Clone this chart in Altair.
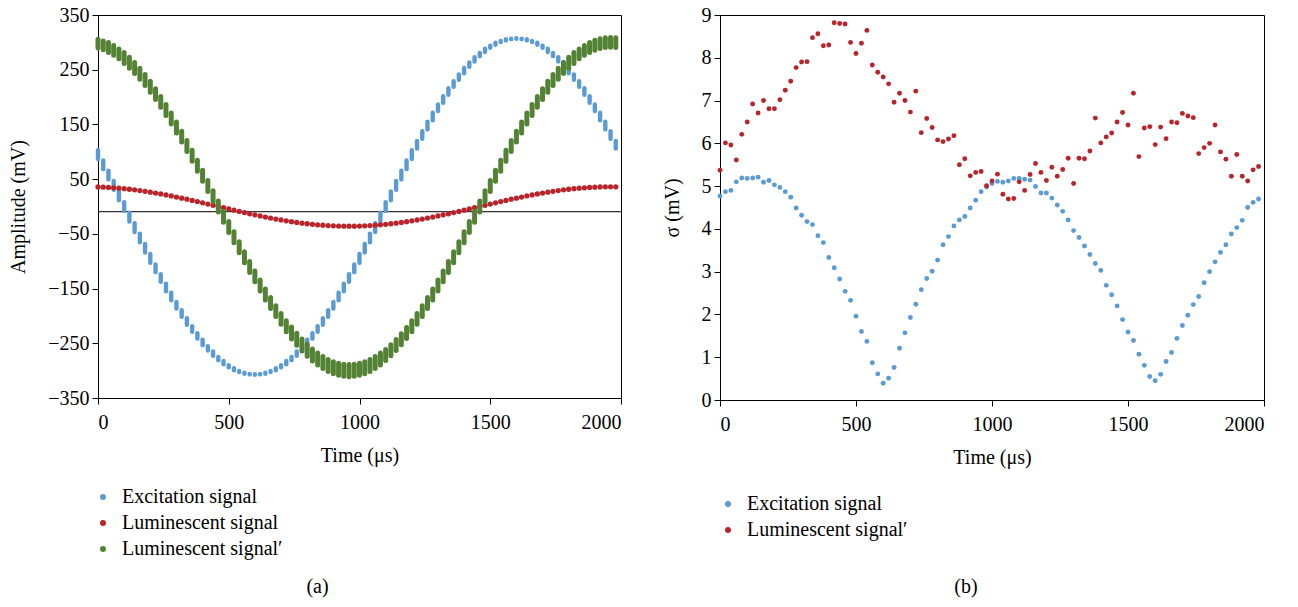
import altair as alt
import pandas as pd

FONT = "Liberation Serif"
BLUE = "#5b9bd5"
RED = "#b9242b"
GREEN = "#548235"

# ---------------- data -----------------
TIME = list(range(0, 2000, 20))

NAMES_A = ["Excitation signal", "Luminescent signal", "Luminescent signal\u2032"]
NAMES_B = ["Excitation signal", "Luminescent signal\u2032"]

# horizontal reference line drawn in panel (a) (mV)
BASELINE_A = [-9.5]

# panel (a): centre of each sampled cluster (mV)
EXCITATION_A = [94.9, 76.3, 57.5, 38.5, 19.3, 0.0, -19.3, -38.5, -57.5, -76.3,
                -94.9, -113.0, -130.7, -147.9, -164.5, -180.5, -195.7, -210.2, -223.8, -236.5,
                -248.4, -259.2, -269.0, -277.8, -285.4, -292.0, -297.4, -301.6, -304.6, -306.4,
                -307.0, -306.4, -304.6, -301.6, -297.4, -292.0, -285.4, -277.8, -269.0, -259.2,
                -248.4, -236.5, -223.8, -210.2, -195.7, -180.5, -164.5, -147.9, -130.7, -113.0,
                -94.9, -76.3, -57.5, -38.5, -19.3, 0.0, 19.3, 38.5, 57.5, 76.3,
                94.9, 113.0, 130.7, 147.9, 164.5, 180.5, 195.7, 210.2, 223.8, 236.5,
                248.4, 259.2, 269.0, 277.8, 285.4, 292.0, 297.4, 301.6, 304.6, 306.4,
                307.0, 306.4, 304.6, 301.6, 297.4, 292.0, 285.4, 277.8, 269.0, 259.2,
                248.4, 236.5, 223.8, 210.2, 195.7, 180.5, 164.5, 147.9, 130.7, 113.0]
# half vertical extent of each cluster (mV)
EXCITATION_A_SPREAD = [8, 8, 8, 8, 8, 8, 8, 8, 8, 8,
                       8, 7, 7, 7, 7, 6, 6, 6, 5, 5,
                       5, 4, 4, 3, 3, 2, 2, 1, 1, 0.5,
                       0.5, 0.5, 1, 1, 2, 2, 3, 3, 4, 4,
                       5, 5, 5, 6, 6, 6, 7, 7, 7, 7,
                       8, 8, 8, 8, 8, 8, 8, 8, 8, 8,
                       8, 7, 7, 7, 7, 6, 6, 6, 5, 5,
                       5, 4, 4, 3, 3, 2, 2, 1, 1, 0.5,
                       0.5, 0.5, 1, 1, 2, 2, 3, 3, 4, 4,
                       5, 5, 5, 6, 6, 6, 7, 7, 7, 7]

LUMINESCENT_A = [35.7, 35.4, 34.9, 34.2, 33.5, 32.6, 31.5, 30.4, 29.1, 27.7,
                 26.2, 24.6, 22.9, 21.2, 19.3, 17.3, 15.3, 13.3, 11.1, 9.0,
                 6.7, 4.5, 2.3, 0.0, -2.3, -4.5, -6.7, -9.0, -11.1, -13.3,
                 -15.3, -17.3, -19.3, -21.2, -22.9, -24.6, -26.2, -27.7, -29.1, -30.4,
                 -31.5, -32.6, -33.5, -34.2, -34.9, -35.4, -35.7, -35.9, -36.0, -35.9,
                 -35.7, -35.4, -34.9, -34.2, -33.5, -32.6, -31.5, -30.4, -29.1, -27.7,
                 -26.2, -24.6, -22.9, -21.2, -19.3, -17.3, -15.3, -13.3, -11.1, -9.0,
                 -6.7, -4.5, -2.3, 0.0, 2.3, 4.5, 6.7, 9.0, 11.1, 13.3,
                 15.3, 17.3, 19.3, 21.2, 22.9, 24.6, 26.2, 27.7, 29.1, 30.4,
                 31.5, 32.6, 33.5, 34.2, 34.9, 35.4, 35.7, 35.9, 36.0, 35.9]

LUMINESCENT_P_A = [297.6, 294.7, 290.6, 285.3, 278.9, 271.4, 262.9, 253.3, 242.7, 231.2,
                   218.7, 205.4, 191.2, 176.3, 160.7, 144.5, 127.7, 110.4, 92.7, 74.6,
                   56.2, 37.6, 18.8, 0.0, -18.8, -37.6, -56.2, -74.6, -92.7, -110.4,
                   -127.7, -144.5, -160.7, -176.3, -191.2, -205.4, -218.7, -231.2, -242.7, -253.3,
                   -262.9, -271.4, -278.9, -285.3, -290.6, -294.7, -297.6, -299.4, -300.0, -299.4,
                   -297.6, -294.7, -290.6, -285.3, -278.9, -271.4, -262.9, -253.3, -242.7, -231.2,
                   -218.7, -205.4, -191.2, -176.3, -160.7, -144.5, -127.7, -110.4, -92.7, -74.6,
                   -56.2, -37.6, -18.8, 0.0, 18.8, 37.6, 56.2, 74.6, 92.7, 110.4,
                   127.7, 144.5, 160.7, 176.3, 191.2, 205.4, 218.7, 231.2, 242.7, 253.3,
                   262.9, 271.4, 278.9, 285.3, 290.6, 294.7, 297.6, 299.4, 300.0, 299.4]
LUMINESCENT_P_A_SPREAD = [8, 8, 9, 9, 9, 10, 10, 10, 10, 10,
                          10, 10, 10, 10, 10, 10, 10, 10, 10, 10,
                          10, 10, 10, 10, 10, 10, 10, 10, 10, 10,
                          10, 10, 10, 10, 10, 10, 10, 11, 11, 11,
                          11, 11, 11, 11, 11, 11, 11, 11, 11, 11,
                          11, 11, 11, 11, 11, 10, 10, 10, 10, 10,
                          10, 10, 10, 10, 10, 10, 10, 10, 10, 10,
                          10, 10, 10, 10, 10, 10, 10, 10, 10, 10,
                          10, 10, 10, 10, 10, 10, 10, 10, 10, 10,
                          10, 10, 9, 9, 9, 9, 9, 9, 9, 9]

# panel (b): standard deviation (mV)
SIGMA_EXCITATION = [4.77, 4.87, 4.90, 5.10, 5.19, 5.18, 5.19, 5.21, 5.09, 5.13,
                    5.03, 4.97, 4.87, 4.74, 4.49, 4.32, 4.17, 4.10, 3.84, 3.68,
                    3.33, 3.09, 2.83, 2.54, 2.33, 1.96, 1.60, 1.37, 0.87, 0.61,
                    0.39, 0.51, 0.76, 1.21, 1.57, 1.93, 2.24, 2.58, 2.84, 3.01,
                    3.27, 3.63, 3.82, 4.07, 4.21, 4.29, 4.49, 4.67, 4.87, 4.98,
                    5.06, 5.11, 5.09, 5.12, 5.18, 5.18, 5.16, 5.14, 4.99, 4.84,
                    4.84, 4.72, 4.56, 4.41, 4.21, 3.96, 3.80, 3.60, 3.40, 3.19,
                    3.03, 2.68, 2.46, 2.20, 1.88, 1.59, 1.39, 1.07, 0.81, 0.55,
                    0.45, 0.60, 0.90, 1.11, 1.44, 1.74, 1.98, 2.23, 2.42, 2.74,
                    3.00, 3.23, 3.45, 3.63, 3.88, 4.03, 4.20, 4.50, 4.62, 4.70]
SIGMA_LUMINESCENT_P = [5.37, 6.01, 5.96, 5.61, 6.21, 6.50, 6.92, 6.71, 7.00, 6.81,
                       6.81, 7.02, 7.24, 7.45, 7.77, 7.90, 7.91, 8.47, 8.56, 8.28,
                       8.30, 8.82, 8.80, 8.79, 8.36, 8.10, 8.34, 8.64, 7.83, 7.66,
                       7.55, 7.39, 6.96, 7.17, 7.00, 6.73, 7.22, 6.25, 6.58, 6.37,
                       6.08, 6.04, 6.10, 6.18, 5.50, 5.64, 5.24, 5.32, 5.34, 5.01,
                       5.12, 5.28, 4.81, 4.70, 4.71, 5.10, 4.90, 5.27, 5.53, 5.32,
                       5.13, 5.44, 5.23, 5.39, 5.65, 5.06, 5.65, 5.64, 5.82, 6.59,
                       6.01, 6.15, 6.24, 6.50, 6.72, 6.43, 7.17, 5.69, 6.36, 6.39,
                       5.97, 6.38, 6.11, 6.50, 6.48, 6.70, 6.64, 6.60, 5.76, 5.90,
                       6.00, 6.43, 5.80, 5.63, 5.23, 5.74, 5.23, 5.12, 5.38, 5.46]

X_TICKS = [0, 500, 1000, 1500, 2000]
Y_TICKS_A = [-350, -250, -150, -50, 50, 150, 250, 350]
Y_TICKS_B = [0, 1, 2, 3, 4, 5, 6, 7, 8, 9]

# ---------------- tables -----------------
exc = pd.DataFrame({"t": TIME, "v": EXCITATION_A, "s": EXCITATION_A_SPREAD})
exc["lo"] = exc["v"] - exc["s"]
exc["hi"] = exc["v"] + exc["s"]
lump = pd.DataFrame({"t": TIME, "v": LUMINESCENT_P_A, "s": LUMINESCENT_P_A_SPREAD})
lump["lo"] = lump["v"] - lump["s"]
lump["hi"] = lump["v"] + lump["s"]
lum = pd.DataFrame({"t": TIME, "v": LUMINESCENT_A, "series": NAMES_A[1]})
base = pd.DataFrame({"y": BASELINE_A})

df_b = pd.concat([
    pd.DataFrame({"t": TIME, "v": SIGMA_EXCITATION, "series": NAMES_B[0]}),
    pd.DataFrame({"t": TIME, "v": SIGMA_LUMINESCENT_P, "series": NAMES_B[1]}),
])

FS = 20

# ---------------- chart -----------------
def x_enc():
    return alt.X("t:Q", scale=alt.Scale(domain=[0, 2000], nice=False),
                 axis=alt.Axis(values=X_TICKS, title="Time (\u03bcs)", format="d",
                               labelPadding=8, titlePadding=13))

ya_scale = alt.Scale(domain=[-350, 350], nice=False)
ya_axis = alt.Axis(values=Y_TICKS_A, title="Amplitude (mV)", format="d",
                   titlePadding=19, labelPadding=3)

color_a = alt.Color("series:N",
                    scale=alt.Scale(domain=NAMES_A, range=[BLUE, RED, GREEN]),
                    legend=alt.Legend(title=None, orient="none", legendX=-5, legendY=472,
                                      direction="vertical", labelLimit=400))

base_line = alt.Chart(base).mark_rule(color="#333333", strokeWidth=1.3).encode(
    y=alt.Y("y:Q", scale=ya_scale, axis=ya_axis))

blue_rules = alt.Chart(exc).mark_rule(color=BLUE, strokeWidth=4.4, strokeCap="round").encode(
    x=x_enc(), y=alt.Y("lo:Q", scale=ya_scale, axis=ya_axis), y2="hi:Q")

red_dots = alt.Chart(lum).mark_circle(size=28, opacity=1).encode(
    x=x_enc(), y=alt.Y("v:Q", scale=ya_scale, axis=ya_axis), color=color_a)

green_rules = alt.Chart(lump).mark_rule(color=GREEN, strokeWidth=5, strokeCap="round").encode(
    x=x_enc(), y=alt.Y("lo:Q", scale=ya_scale, axis=ya_axis), y2="hi:Q")

panel_a = alt.layer(base_line, blue_rules, red_dots, green_rules).properties(
    width=523, height=383,
    title=alt.TitleParams("(a)", orient="bottom", anchor="middle", offset=18, dx=-42,
                          font=FONT, fontSize=FS, fontWeight="normal", color="black"))

panel_b = alt.Chart(df_b).mark_circle(size=24, opacity=1).encode(
    x=x_enc(),
    y=alt.Y("v:Q", scale=alt.Scale(domain=[0, 9], nice=False),
            axis=alt.Axis(values=Y_TICKS_B, title="\u03c3 (mV)", titlePadding=19,
                          labelPadding=3)),
    color=alt.Color("series:N", scale=alt.Scale(domain=NAMES_B, range=[BLUE, RED]),
                    legend=alt.Legend(title=None, orient="none", legendX=-2, legendY=479,
                                      direction="vertical", labelLimit=400)),
).properties(
    width=544, height=385,
    title=alt.TitleParams("(b)", orient="bottom", anchor="middle", offset=37, dx=-26,
                          font=FONT, fontSize=FS, fontWeight="normal", color="black"))

chart = alt.hconcat(panel_a, panel_b, spacing=38).resolve_scale(
    color="independent").resolve_legend(color="independent").properties(
    padding={"left": 8, "top": 4, "right": 5, "bottom": 5},
    background="white",
).configure_view(stroke="black", strokeWidth=1).configure_axis(
    grid=False, domainColor="black", tickColor="black", tickSize=6,
    labelFont=FONT, titleFont=FONT, labelFontSize=FS, titleFontSize=FS,
    labelColor="black", titleColor="black", titleFontWeight="normal",
).configure_legend(
    labelFont=FONT, labelFontSize=FS, labelColor="black", symbolType="circle",
    symbolSize=36, symbolStrokeWidth=0, labelOffset=9, rowPadding=6, padding=0,
    labelLimit=400,
)

chart.save("out.html", embed_options={"renderer": "svg", "actions": False})
